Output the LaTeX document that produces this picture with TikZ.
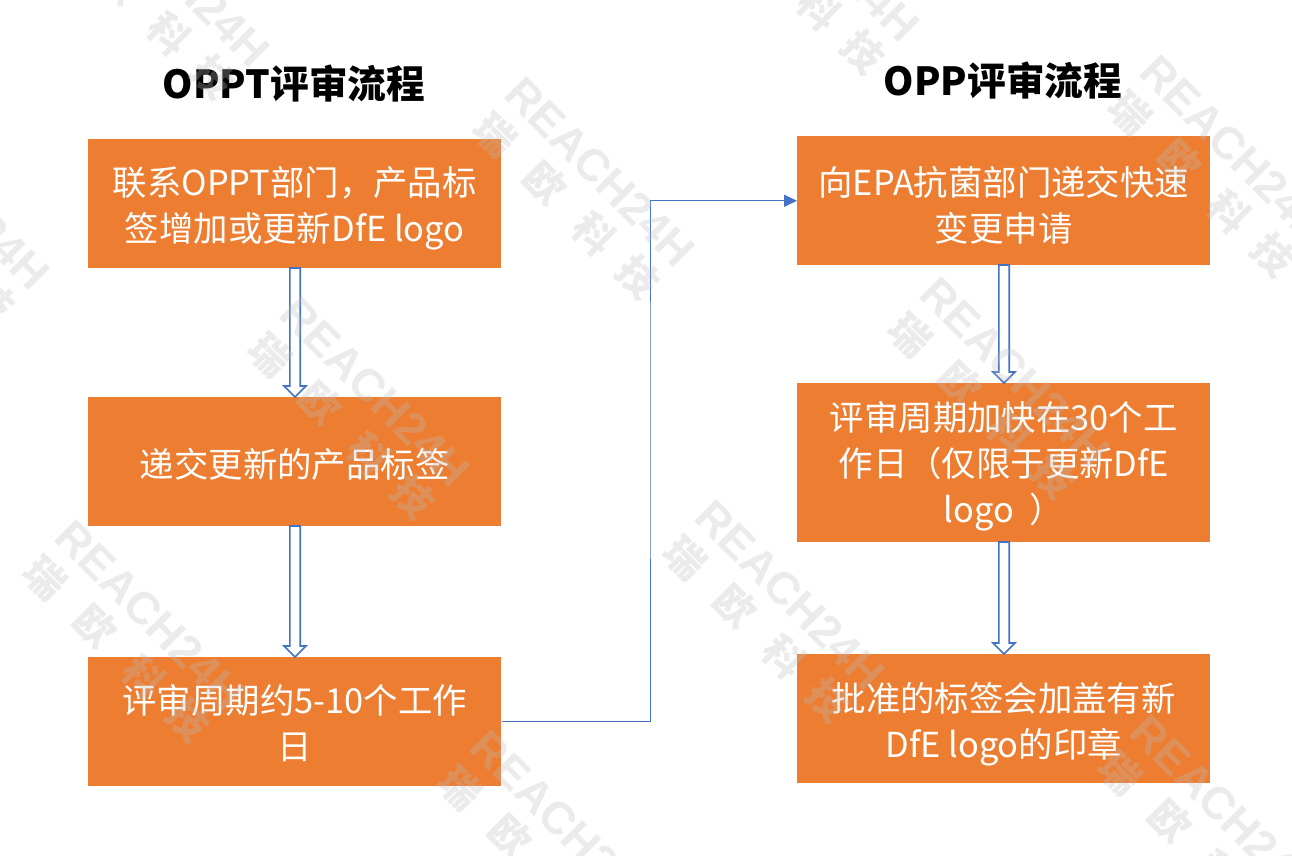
\documentclass[tikz,border=0pt]{standalone}
\usepackage{fontspec}
\setmainfont{Noto Sans CJK SC}
\newfontfamily\wmlatin{Liberation Sans}
\usetikzlibrary{arrows.meta}
\definecolor{boxor}{HTML}{ED7D31}
\definecolor{lineb}{HTML}{4472C4}
\definecolor{wm}{HTML}{BEBEBE}
\newcommand{\dn}[1]{\rule{0pt}{#1pt}}
\tikzset{
 px/.style={x=0.75pt,y=-0.75pt},
 flow/.style={fill=boxor,draw=none,inner sep=0pt,text=white,minimum width=309.75pt,font=\fontsize{25.8}{34.5}\selectfont,align=center,anchor=north west},
 titlet/.style={font=\fontsize{29}{34}\selectfont\bfseries,text=black},
 dbl/.style={draw=lineb,line width=1.2pt,fill=white,line join=miter},
 conn/.style={draw=lineb,line width=0.75pt,-{Triangle[length=9.75pt,width=9pt]}},
 wmt/.style={text=wm,opacity=0.3,font=\wmlatin\bfseries\fontsize{34}{34}\selectfont,rotate=-45},
 wmc/.style={text=wm,opacity=0.3,font=\fontsize{30}{30}\selectfont\bfseries,rotate=-45}
}
\newcommand{\hollow}[3]{% x, y1, y2
 \draw[dbl] (#1-5.2,#2) -- (#1+5.2,#2) -- (#1+5.2,#3-11) -- (#1+11,#3-11) -- (#1,#3) -- (#1-11,#3-11) -- (#1-5.2,#3-11) -- cycle;
}
\newcommand{\wmark}[2]{%
 \begin{scope}[shift={(#1,#2)}]
 \node[wmt] at (0,0) {REACH24H};
 \node[wmc] at (-105,-37) {瑞};
 \node[wmc] at (-55,11) {欧};
 \node[wmc] at (-6,62) {科};
 \node[wmc] at (38,105) {技};
 \end{scope}%
}
\begin{document}
\begin{tikzpicture}[px]
\useasboundingbox (0,0) rectangle (1292,856);
\fill[white] (0,0) rectangle (1292,856);
\node[titlet] (t1) at (294,84) {OPPT评审流程};
\node[titlet] (t2) at (1003,81) {OPP评审流程};
\node[flow,minimum height=96.75pt] (a1) at (88,139) {\dn{29}联系OPPT部门，产品标\\签增加或更新DfE logo};
\node[flow,minimum height=96.75pt] (a2) at (88,397) {\dn{26}递交更新的产品标签};
\node[flow,minimum height=96.75pt] (a3) at (88,657) {\dn{24}评审周期约5-10个工作\\日};
\node[flow,minimum height=96.75pt] (b1) at (797,136) {\dn{28}向EPA抗菌部门递交快速\\变更申请};
\node[flow,minimum height=119.25pt] (b2) at (797,383) {\dn{27.5}评审周期加快在30个工\\作日（仅限于更新DfE\\logo\ \ ）};
\node[flow,minimum height=96.75pt] (b3) at (797,654) {\dn{30.5}批准的标签会加盖有新\\DfE logo的印章};
\hollow{295}{268}{397}
\hollow{295}{526}{657}
\hollow{1004}{265}{383}
\hollow{1004}{542}{654}
\coordinate (m) at (650,400);
\draw[conn] (a3.east) -| (m) |- (b1.west);
\wmark{600}{172}
\wmark{1235}{150}
\wmark{375}{392}
\wmark{150}{615}
\wmark{790}{595}
\wmark{1015}{372}
\wmark{565}{825}
\wmark{1225}{810}
\wmark{175}{-28}
\wmark{825}{-53}
\wmark{-45}{195}
\end{tikzpicture}
\end{document}
